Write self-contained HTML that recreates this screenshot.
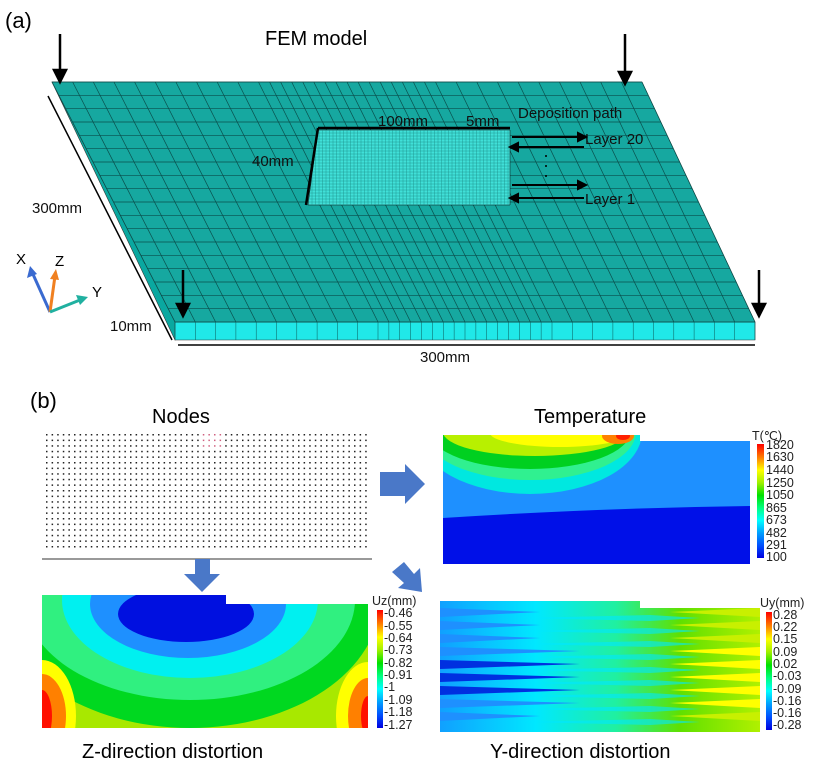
<!DOCTYPE html>
<html><head><meta charset="utf-8">
<style>
body{margin:0;background:#fff;}
svg{display:block;font-family:"Liberation Sans",sans-serif;}
</style></head>
<body>
<svg id="s" width="823" height="772" viewBox="0 0 823 772" xmlns="http://www.w3.org/2000/svg">
<defs>
<clipPath id="cz"><path d="M42,595 H226 V604 H368 V728 H42 Z"/></clipPath>
<clipPath id="ct"><path d="M443,435 H640 V441 H750 V564 H443 Z"/></clipPath>
<clipPath id="cy"><path d="M440,601 H640 V608 H760 V732 H440 Z"/></clipPath>
<linearGradient id="tb" x1="0" y1="1" x2="0" y2="0">
<stop offset="0" stop-color="#0000e0"/><stop offset="0.11" stop-color="#0050ff"/><stop offset="0.22" stop-color="#00a0ff"/><stop offset="0.33" stop-color="#00ffff"/><stop offset="0.44" stop-color="#00ff80"/><stop offset="0.55" stop-color="#00e000"/><stop offset="0.66" stop-color="#a0f000"/><stop offset="0.77" stop-color="#ffff00"/><stop offset="0.88" stop-color="#ff8000"/><stop offset="1" stop-color="#ff0000"/>
</linearGradient>
<linearGradient id="yg" x1="0" y1="0" x2="1" y2="0">
<stop offset="0" stop-color="#10a0ff"/><stop offset="0.3" stop-color="#00e8ff"/><stop offset="0.55" stop-color="#20f0a0"/><stop offset="0.75" stop-color="#60e000"/><stop offset="1" stop-color="#b0f000"/>
</linearGradient>
</defs>

<text x="5" y="28" font-size="22">(a)</text>
<text x="265" y="45" font-size="20">FEM model</text>

<!-- plate -->
<polygon points="52,82 58,82 181,322 175,340" fill="#0aa8a0" stroke="#333" stroke-width="0.6"/>
<polygon points="175,322 755,322 755,340 175,340" fill="#20e8e8" stroke="#333" stroke-width="0.6"/>
<polygon points="52,82 642,82 755,322 175,322" fill="#16a8a0" stroke="#333" stroke-width="0.6"/>
<g id="grid" stroke="#0a4f4c" stroke-width="0.7"></g>
<g id="fgrid" stroke="#0a5a58" stroke-width="0.5"></g>
<!-- deposit -->
<polygon points="318,130 510,130 510,205 308,205" fill="#40e0d8" stroke="#111" stroke-width="0.5"/>
<g id="dgrid" stroke="#1a8a86" stroke-width="0.4"></g>
<line x1="318" y1="128" x2="510" y2="128" stroke="#000" stroke-width="2.5"/>
<line x1="318" y1="128" x2="306" y2="205" stroke="#000" stroke-width="2.5"/>

<g font-size="15" fill="#111">
<text x="378" y="126">100mm</text>
<text x="466" y="126">5mm</text>
<text x="252" y="166">40mm</text>
<text x="518" y="118">Deposition path</text>
<text x="585" y="144">Layer 20</text>
<text x="585" y="204">Layer 1</text>
<text x="32" y="213">300mm</text>
<text x="110" y="331">10mm</text>
<text x="420" y="362">300mm</text>
</g>
<g stroke="#000" stroke-width="2" fill="#000">
<line x1="512" y1="137" x2="584" y2="137"/><polygon points="586,137 578,133 578,141"/>
<line x1="512" y1="147" x2="584" y2="147"/><polygon points="510,147 518,143 518,151"/>
<line x1="512" y1="185" x2="584" y2="185"/><polygon points="586,185 578,181 578,189"/>
<line x1="512" y1="198" x2="584" y2="198"/><polygon points="510,198 518,194 518,202"/>
</g>
<g fill="#000"><circle cx="546" cy="156" r="1"/><circle cx="546" cy="166" r="1"/><circle cx="546" cy="176" r="1"/></g>
<g stroke="#000" stroke-width="1.5">
<line x1="48" y1="96" x2="172" y2="340"/>
<line x1="178" y1="345" x2="755" y2="345"/>
</g>
<g stroke="#000" stroke-width="2.5" fill="#000">
<line x1="60" y1="34" x2="60" y2="72"/><polygon points="60,82 54,70 66,70"/>
<line x1="625" y1="34" x2="625" y2="74"/><polygon points="625,84 619,72 631,72"/>
<line x1="183" y1="270" x2="183" y2="306"/><polygon points="183,316 177,304 189,304"/>
<line x1="759" y1="270" x2="759" y2="306"/><polygon points="759,316 753,304 765,304"/>
</g>
<g stroke-width="3">
<line x1="50" y1="312" x2="32" y2="272" stroke="#3a6ad0"/><polygon points="30,266 27,278 37,274" fill="#3a6ad0"/>
<line x1="50" y1="312" x2="55" y2="276" stroke="#f08020"/><polygon points="56,269 50,279 59,280" fill="#f08020"/>
<line x1="50" y1="312" x2="80" y2="300" stroke="#20b0a0"/><polygon points="88,297 76,295 80,305" fill="#20b0a0"/>
</g>
<g font-size="15"><text x="16" y="264">X</text><text x="55" y="266">Z</text><text x="92" y="297">Y</text></g>

<!-- (b) -->
<text x="30" y="408" font-size="22">(b)</text>
<text x="152" y="423" font-size="20">Nodes</text>
<text x="534" y="423" font-size="20">Temperature</text>
<text x="82" y="758" font-size="20">Z-direction distortion</text>
<text x="490" y="758" font-size="20">Y-direction distortion</text>
<g id="dots" fill="#222"></g>
<line x1="42" y1="559" x2="372" y2="559" stroke="#999" stroke-width="2"/>

<g fill="#4a78c8">
<polygon points="380,472 405,472 405,464 425,484 405,504 405,496 380,496"/>
<polygon points="195,559 210,559 210,574 220,574 202,592 184,574 195,574"/>
<polygon points="392,572 404,562 414,574 420,568 422,592 398,588 404,583"/>
</g>

<!-- temperature -->
<g clip-path="url(#ct)">
<rect x="443" y="435" width="307" height="130" fill="#1e90ff"/>
<path d="M443,518 Q600,508 750,506 V565 H443 Z" fill="#0010e8"/>
<ellipse cx="530" cy="432" rx="112" ry="62" fill="#00e8e0"/>
<ellipse cx="530" cy="432" rx="106" ry="48" fill="#30f090"/>
<ellipse cx="530" cy="432" rx="100" ry="37" fill="#00d020"/>
<ellipse cx="535" cy="432" rx="92" ry="24" fill="#b8f000"/>
<ellipse cx="560" cy="433" rx="70" ry="14" fill="#ffff00"/>
<ellipse cx="618" cy="436" rx="16" ry="8" fill="#ff8000"/>
<ellipse cx="623" cy="436" rx="7" ry="4" fill="#ff2000"/>
</g>
<rect x="757" y="444" width="7" height="114" fill="url(#tb)"/>
<g font-size="12.5" fill="#222">
<text x="752" y="440">T(℃)</text>
<text x="766" y="449">1820</text><text x="766" y="461">1630</text><text x="766" y="474">1440</text><text x="766" y="487">1250</text><text x="766" y="499">1050</text><text x="766" y="512">865</text><text x="766" y="524">673</text><text x="766" y="537">482</text><text x="766" y="549">291</text><text x="766" y="561">100</text>
</g>

<!-- Z distortion -->
<g clip-path="url(#cz)">
<rect x="42" y="595" width="326" height="134" fill="#a8e800"/>
<ellipse cx="190" cy="600" rx="190" ry="128" fill="#00d820"/>
<ellipse cx="190" cy="600" rx="165" ry="100" fill="#30f080"/>
<ellipse cx="190" cy="600" rx="128" ry="78" fill="#00f0f0"/>
<ellipse cx="188" cy="604" rx="98" ry="54" fill="#1e90ff"/>
<ellipse cx="186" cy="614" rx="68" ry="28" fill="#0010e0"/>
<ellipse cx="42" cy="716" rx="34" ry="56" fill="#ffff00"/>
<ellipse cx="42" cy="716" rx="24" ry="42" fill="#ff8000"/>
<ellipse cx="42" cy="716" rx="10" ry="26" fill="#ff1000"/>
<ellipse cx="368" cy="716" rx="32" ry="54" fill="#ffff00"/>
<ellipse cx="368" cy="716" rx="20" ry="38" fill="#ff8000"/>
<ellipse cx="368" cy="716" rx="7" ry="20" fill="#ff1000"/>
</g>
<rect x="377" y="610" width="6" height="118" fill="url(#tb)"/>
<g font-size="12.5" fill="#222">
<text x="372" y="605">Uz(mm)</text>
<text x="384" y="617">-0.46</text><text x="384" y="630">-0.55</text><text x="384" y="642">-0.64</text><text x="384" y="654">-0.73</text><text x="384" y="667">-0.82</text><text x="384" y="679">-0.91</text><text x="384" y="691">-1</text><text x="384" y="704">-1.09</text><text x="384" y="716">-1.18</text><text x="384" y="729">-1.27</text>
</g>

<!-- Y distortion -->
<g clip-path="url(#cy)">
<rect x="440" y="601" width="320" height="132" fill="url(#yg)"/>
<g id="zig"></g>
</g>
<rect x="766" y="612" width="6" height="118" fill="url(#tb)"/>
<g font-size="12.5" fill="#222">
<text x="760" y="607">Uy(mm)</text>
<text x="773" y="619">0.28</text><text x="773" y="631">0.22</text><text x="773" y="643">0.15</text><text x="773" y="656">0.09</text><text x="773" y="668">0.02</text><text x="773" y="680">-0.03</text><text x="773" y="693">-0.09</text><text x="773" y="705">-0.16</text><text x="773" y="717">-0.16</text><text x="773" y="729">-0.28</text>
</g>
</svg>
<script>
var NS="http://www.w3.org/2000/svg";
function ln(g,x1,y1,x2,y2){var l=document.createElementNS(NS,"line");l.setAttribute("x1",x1);l.setAttribute("y1",y1);l.setAttribute("x2",x2);l.setAttribute("y2",y2);g.appendChild(l);}
var g=document.getElementById("grid");
function P(u,v){var xt=52+590*u,xb=175+580*u;return [xt+(xb-xt)*v,82+v*240];}
var cols=[];for(var i=0;i<=10;i++)cols.push(i*0.35/10);
for(var i=1;i<=16;i++)cols.push(0.35+i*0.3/16);
for(var i=1;i<=10;i++)cols.push(0.65+i*0.35/10);
cols.forEach(function(u){var a=P(u,0),b=P(u,1);ln(g,a[0],a[1],b[0],b[1]);});
for(var j=0;j<=18;j++){var v=j/18;var a=P(0,v),b=P(1,v);ln(g,a[0],a[1],b[0],b[1]);}
var f=document.getElementById("fgrid");
cols.forEach(function(u){var x=175+u*580;ln(f,x,322,x,340);});
var d=document.getElementById("dgrid");
for(var x=312;x<510;x+=3.5)ln(d,x,130,x,205);
for(var y=133;y<205;y+=3)ln(d,308+(205-y)/75*10,y,510,y);
var dots=document.getElementById("dots");
for(var r=0;r<21;r++)for(var c=0;c<58;c++){var e=document.createElementNS(NS,"rect");e.setAttribute("x",46+c*5.6);e.setAttribute("y",434+r*5.6);e.setAttribute("width",1.5);e.setAttribute("height",1.5);if(r<3&&c>=28&&c<32)e.setAttribute("fill","#d06080");dots.appendChild(e);}
var z=document.getElementById("zig");
for(var k=0;k<9;k++){var y=612+k*13;var p=document.createElementNS(NS,"polygon");
var len=(k>=3&&k<=7)?140:100;var col=(k>=4&&k<=6)?"#0030e0":"#1e90ff";
p.setAttribute("points","440,"+(y-4)+" "+(440+len)+","+y+" 440,"+(y+5));p.setAttribute("fill",col);z.appendChild(p);
var q=document.createElementNS(NS,"polygon");q.setAttribute("points","760,"+(y-4)+" "+(760-90)+","+y+" 760,"+(y+5));q.setAttribute("fill",(k>=3&&k<=7)?"#ffff00":"#c8f000");z.appendChild(q);
var w=document.createElementNS(NS,"polygon");w.setAttribute("points","520,"+(y+6)+" 650,"+(y+3)+" 700,"+(y+6)+" 650,"+(y+9));w.setAttribute("fill","#00e8ff");w.setAttribute("opacity","0.6");z.appendChild(w);}
</script>
</body></html>
